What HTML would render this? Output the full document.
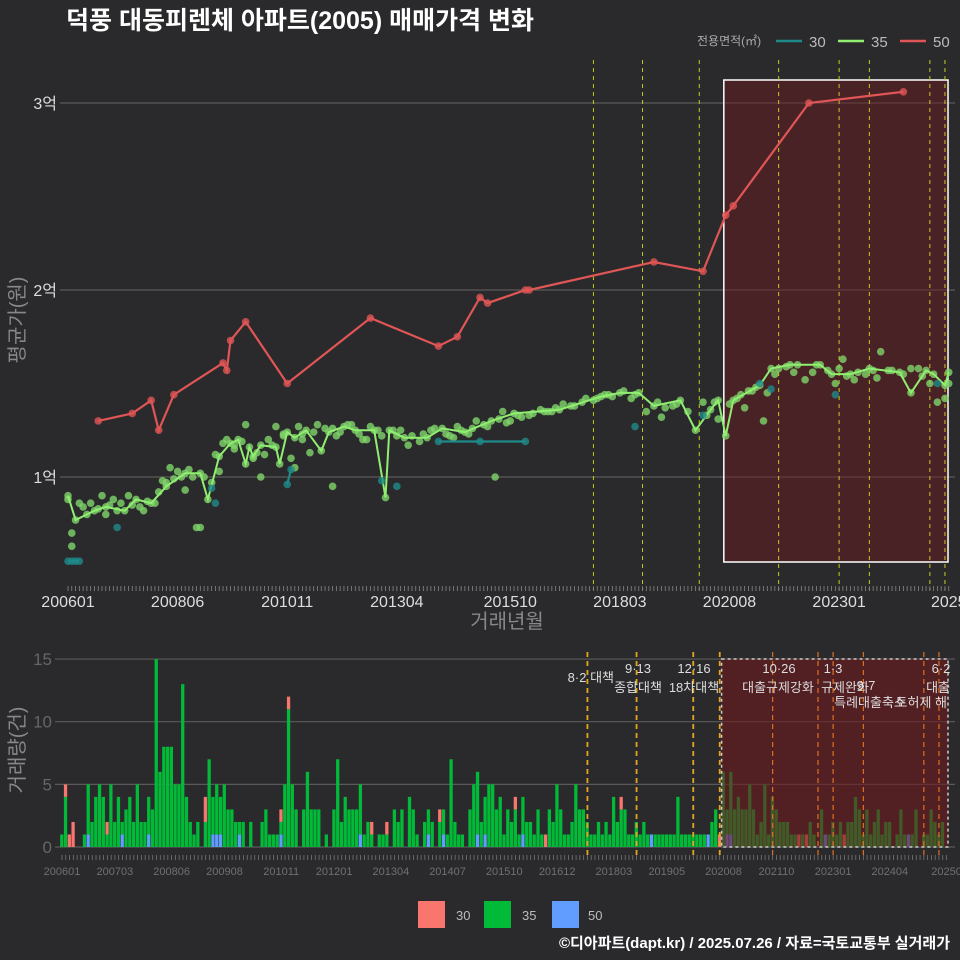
<!DOCTYPE html>
<html><head><meta charset="utf-8">
<style>
html,body{margin:0;padding:0;background:#2a2a2c;}
svg{display:block;font-family:"Liberation Sans","Noto Sans CJK KR",sans-serif;}
</style></head>
<body>
<svg id="chart" width="960" height="960" viewBox="0 0 960 960" xmlns="http://www.w3.org/2000/svg">
<rect width="960" height="960" fill="#2a2a2c"/>
<text x="66" y="29" fill="#ffffff" font-size="25" font-weight="bold">덕풍 대동피렌체 아파트(2005) 매매가격 변화</text>
<g id="topPanel"></g>
<g id="botPanel"></g>
<text x="697" y="45" fill="#aaaaaa" font-size="12">전용면적(㎡)</text>
<g><line x1="776" y1="41" x2="802" y2="41" stroke="#1f8a8a" stroke-width="2.5"/><text x="809" y="47" fill="#bbbbbb" font-size="15">30</text></g>
<g><line x1="838" y1="41" x2="864" y2="41" stroke="#90ee70" stroke-width="2.5"/><text x="871" y="47" fill="#bbbbbb" font-size="15">35</text></g>
<g><line x1="900" y1="41" x2="926" y2="41" stroke="#e05555" stroke-width="2.5"/><text x="933" y="47" fill="#bbbbbb" font-size="15">50</text></g>
<g>
<rect x="418" y="901" width="27" height="27" fill="#f8766d"/><text x="456" y="920" fill="#bbbbbb" font-size="13">30</text>
<rect x="484" y="901" width="27" height="27" fill="#00ba38"/><text x="522" y="920" fill="#bbbbbb" font-size="13">35</text>
<rect x="552" y="901" width="27" height="27" fill="#619cff"/><text x="588" y="920" fill="#bbbbbb" font-size="13">50</text>
</g>
<text x="950" y="948" text-anchor="end" fill="#ffffff" font-size="15" font-weight="bold">©디아파트(dapt.kr) / 2025.07.26 / 자료=국토교통부 실거래가</text>
</svg>
<script>
var line35Months=[0,2,7,10,15,18,22,26,31,35,37,40,43,45,47,48,49,51,55,56,58,60,63,67,69,73,76,81,84,85,89,95,99,105,112,118,130,141,146,151,155,162,166,170,172,174,176,183,186,191,199,202,207,212,220,223,227,229,232,233];
var line35Values=[0.90,0.77,0.82,0.84,0.82,0.88,0.86,0.95,1.02,1.02,0.88,1.11,1.18,1.20,1.07,1.16,1.11,1.17,1.16,1.07,1.24,1.21,1.25,1.14,1.24,1.27,1.25,1.25,0.89,1.25,1.21,1.21,1.26,1.24,1.30,1.34,1.36,1.43,1.45,1.45,1.38,1.41,1.25,1.36,1.41,1.22,1.41,1.49,1.58,1.60,1.60,1.55,1.55,1.58,1.56,1.45,1.57,1.55,1.49,1.56];
var pts35Months=[0,1,1,3,9,10,14,17,20,23,25,27,29,31,33,34,35,38,40,42,44,47,49,51,55,57,60,62,64,66,68,70,74,78,82,86,90,96,100,104,108,113,115,122,128,134,137,143,149,157,160,164,168,172,178,181,184,188,193,197,203,205,208,211,215,218,223,228,230,232,233,
4,5,6,8,11,12,13,16,19,21,24,26,28,30,32,36,39,41,44,46,50,52,53,54,57,59,61,62,65,70,71,72,75,77,79,80,83,87,88,91,93,94,97,101,102,103,106,107,110,111,114,116,117,119,120,123,125,126,127,129,131,133,136,139,140,142,144,147,150,153,156,158,161,169,171,175,177,179,180,182,185,187,190,192,195,198,201,204,206,209,213,214,217,221,225,226];
var pts35Values=[0.88,0.63,0.70,0.86,0.90,0.80,0.86,0.85,0.82,0.86,0.98,1.05,1.03,0.93,1.00,0.73,0.73,0.97,1.03,1.20,1.17,1.28,1.10,1.00,1.27,1.23,1.05,1.20,1.13,1.28,1.26,0.95,1.28,1.20,1.25,1.25,1.17,1.25,1.23,1.25,1.30,1.00,1.35,1.33,1.35,1.38,1.42,1.44,1.42,1.32,1.38,1.35,1.40,1.31,1.44,1.46,1.30,1.58,1.60,1.56,1.50,1.63,1.52,1.55,1.67,1.57,1.58,1.50,1.40,1.42,1.50,
0.84,0.80,0.86,0.83,0.85,0.88,0.82,0.90,0.84,0.87,0.92,0.97,0.99,1.00,1.04,1.00,1.12,1.18,1.15,1.19,1.13,1.12,1.20,1.17,1.22,1.10,1.27,1.23,1.24,1.26,1.22,1.24,1.28,1.23,1.20,1.27,1.22,1.22,1.25,1.22,1.19,1.23,1.26,1.22,1.21,1.27,1.23,1.26,1.28,1.27,1.31,1.29,1.30,1.33,1.32,1.34,1.36,1.35,1.35,1.37,1.39,1.38,1.40,1.41,1.42,1.44,1.43,1.46,1.44,1.35,1.40,1.37,1.39,1.33,1.40,1.39,1.42,1.37,1.46,1.48,1.45,1.55,1.59,1.56,1.52,1.60,1.57,1.58,1.54,1.56,1.57,1.53,1.57,1.55,1.58,1.54];
var line50Months=[8,17,22,24,28,41,42,43,47,58,80,98,103,109,111,121,122,155,168,174,176,196,221];
var line50Values=[1.30,1.34,1.41,1.25,1.44,1.61,1.57,1.73,1.83,1.50,1.85,1.70,1.75,1.96,1.93,2.00,2.00,2.15,2.10,2.40,2.45,3.00,3.06];
var line30aMonths=[0,1,2,3];
var line30aValues=[0.55,0.55,0.55,0.55];
var line30bMonths=[58,59];
var line30bValues=[0.96,1.04];
var line30cMonths=[98,109,121];
var line30cValues=[1.19,1.19,1.19];
var pts30Months=[13,38,39,83,87,150,168,183,186,203,230];
var pts30Values=[0.73,0.94,0.86,0.98,0.95,1.27,1.33,1.50,1.47,1.44,1.50];
var priceTicks=[1,2,3];
var priceTickLabels=["1억","2억","3억"];
var topXTickMonths=[0,29,58,87,117,146,175,204,233];
var topXTickLabels=["200601","200806","201011","201304","201510","201803","202008","202301","2025"];
var policyMonths=[139,152,167,188,204,212,228,232];
var vol35=[1,4,0,0,0,0,1,4,2,4,5,4,1,5,2,4,1,3,4,2,5,2,2,3,3,15,6,8,8,8,5,5,13,4,2,1,2,0,2,7,3,4,3,5,3,3,2,1,2,0,2,0,0,2,3,1,1,1,1,5,11,5,3,0,3,6,3,3,3,0,1,0,3,7,2,4,3,3,
3,4,1,2,1,0,1,1,1,0,3,2,3,0,4,3,1,0,2,2,2,0,2,2,1,7,2,1,1,0,3,5,5,2,3,5,5,3,4,1,3,2,3,1,3,2,2,1,3,1,0,3,2,5,3,1,1,2,5,3,3,2,
1,1,2,1,2,1,4,2,3,3,1,1,2,1,2,1,
0,1,1,1,1,1,1,4,1,1,1,1,1,1,1,0,2,3,0,
6,2,5,3,4,3,3,5,3,1,2,5,1,4,3,2,2,2,1,1,0,1,0,2,1,0,3,0,1,2,1,2,0,2,2,4,3,1,3,1,2,3,1,2,2,0,1,3,1,0,1,3,0,1,1,3,2,1,2];
var vol30Months=[1,2,3,12,38,58,60,82,86,100,120,128,148,174,195,197,207];
var vol30Counts=[1,1,2,1,2,1,1,1,1,1,1,1,1,1,1,1,1];
var vol50Months=[7,16,23,40,41,42,47,58,79,97,101,110,112,122,156,171,176,177,202,224];
var vol50Counts=[1,1,1,1,1,1,1,1,1,1,1,1,1,1,1,1,1,1,1,1];
var volTicks=[0,5,10,15];
var botXTickMonths=[0,14,29,43,58,72,87,102,117,131,146,160,175,189,204,219,234];
var botXTickLabels=["200601","200703","200806","200908","201011","201201","201304","201407","201510","201612","201803","201905","202008","202110","202301","202404","20250"];
var botPolicyMonths=[139,152,167,174,188,200,204,212,228,232];

var NS="http://www.w3.org/2000/svg";
function mk(tag,attrs,parent){var e=document.createElementNS(NS,tag);for(var k in attrs)e.setAttribute(k,attrs[k]);parent.appendChild(e);return e;}
var topG=document.getElementById('topPanel'),botG=document.getElementById('botPanel');
function tx(m){return 68+m*3.78;}
function ty(v){return 477-(v-1)*187;}
function bx(m){return 62+m*3.78;}
function by(v){return 847-v*12.53;}

priceTicks.forEach(function(t,i){
  var g=mk('line',{x1:60,x2:955,y1:ty(t),y2:ty(t),stroke:'#5a5a5a','stroke-width':1.2},topG);
  
  
  var l=mk('text',{x:57,y:ty(t)+6,'text-anchor':'end',fill:'#dddddd','font-size':16},topG);
  l.textContent=priceTickLabels[i];
  
  
});
var hb=mk('rect',{x:tx(173.5),y:80,width:948-tx(173.5),height:482,fill:'rgba(110,25,30,0.45)',stroke:'#ffffff','stroke-width':1.5},topG);


policyMonths.forEach(function(m){
  var l=mk('line',{x1:tx(m),x2:tx(m),y1:60,y2:590,stroke:'#c8c820','stroke-width':1,'stroke-dasharray':'4,4'},topG);
  
  
});
function drawLine(ms,vs,color,name,parent,w){
  var d=ms.map(function(m,i){return (i?'L':'M')+tx(m).toFixed(1)+','+ty(vs[i]).toFixed(1);}).join('');
  var p=mk('path',{d:d,fill:'none',stroke:color,'stroke-width':w||2.2},parent);
  
  
}
function drawPts(ms,vs,color,name,parent){
  ms.forEach(function(m,i){
    var c=mk('circle',{cx:tx(m),cy:ty(vs[i]),r:3.8,fill:color,'fill-opacity':0.8},parent);
    
    
  });
}
drawPts(pts35Months,pts35Values,'#7fd56a','point-35',topG);
drawPts(line35Months,line35Values,'#7fd56a','point-35',topG);
drawLine(line35Months,line35Values,'#90ee70','line-35',topG,2);
drawLine(line30aMonths,line30aValues,'#1f8a8a','line-30',topG);
drawLine(line30bMonths,line30bValues,'#1f8a8a','line-30',topG);
drawLine(line30cMonths,line30cValues,'#1f8a8a','line-30',topG);
drawPts(line30aMonths,line30aValues,'#1f8a8a','point-30',topG);
drawPts(line30bMonths,line30bValues,'#1f8a8a','point-30',topG);
drawPts(line30cMonths,line30cValues,'#1f8a8a','point-30',topG);
drawPts(pts30Months,pts30Values,'#1f8a8a','point-30',topG);
drawLine(line50Months,line50Values,'#e05555','line-50',topG);
drawPts(line50Months,line50Values,'#e05555','point-50',topG);
for(var m=0;m<=233;m++){
  var t=mk('line',{x1:tx(m),x2:tx(m),y1:586,y2:591,stroke:'#888','stroke-width':0.8},topG);
  
  
}
topXTickMonths.forEach(function(m,i){
  var l=mk('text',{x:tx(m),y:607,'text-anchor':'middle',fill:'#dddddd','font-size':16},topG);
  l.textContent=topXTickLabels[i];
  
  
});
var xt=mk('text',{x:507,y:628,'text-anchor':'middle',fill:'#888','font-size':20},topG);
xt.textContent='거래년월';


var yt=mk('text',{x:0,y:0,'text-anchor':'middle',fill:'#888','font-size':20,transform:'translate(24,320) rotate(-90)'},topG);
yt.textContent='평균가(원)';



volTicks.forEach(function(t){
  var g=mk('line',{x1:55,x2:955,y1:by(t),y2:by(t),stroke:'#5a5a5a','stroke-width':1.2},botG);
  
  
  var l=mk('text',{x:52,y:by(t)+6,'text-anchor':'end',fill:'#666','font-size':17},botG);
  l.textContent=String(t);
  
  
});
var bw=3.78;
var v50=[],v30=[];
for(var i=0;i<vol35.length;i++){v50.push(0);v30.push(0);}
vol50Months.forEach(function(m,i){v50[m]+=vol50Counts[i];});
vol30Months.forEach(function(m,i){v30[m]+=vol30Counts[i];});
for(var i=0;i<vol35.length;i++){
  var base=0;
  [[v50[i],'#619cff','bar-50'],[vol35[i],'#00ba38','bar-35'],[v30[i],'#f8766d','bar-30']].forEach(function(s){
    if(s[0]>0){
      var r=mk('rect',{x:bx(i)-bw/2,y:by(base+s[0]),width:bw-0.5,height:by(base)-by(base+s[0]),fill:s[1]},botG);
      
      
      base+=s[0];
    }
  });
}
var hb2=mk('rect',{x:bx(175)-bw/2,y:659,width:948-(bx(175)-bw/2),height:188,fill:'rgba(110,25,30,0.6)',stroke:'#cccccc','stroke-width':1.5,'stroke-dasharray':'3,3'},botG);


botPolicyMonths.forEach(function(m){
  var inside=m>=175;
  var l=mk('line',{x1:bx(m),x2:bx(m),y1:652,y2:857,stroke:inside?'#e07020':'#e6a520','stroke-width':inside?1.2:1.8,'stroke-dasharray':'5,4'},botG);
  
  
});
var ann=[[614,682,'end','8·2 대책'],[638,673,'middle','9·13'],[638,692,'middle','종합대책'],[694,673,'middle','12·16'],[694,692,'middle','18차대책'],[779,673,'middle','10·26'],[778,692,'middle','대출규제강화'],[833,673,'middle','1·3'],[845,692,'middle','규제완화'],[866,690,'middle','9·7'],[870,707,'middle','특례대출축소'],[947,707,'end','토허제 해'],[941,673,'middle','6·2'],[950,692,'end','대출']];
ann.forEach(function(a){
  var t=mk('text',{x:a[0],y:a[1],'text-anchor':a[2],fill:'#dddddd','font-size':13},botG);
  t.textContent=a[3];
  
  
});
for(var m=0;m<=234;m++){
  var t=mk('line',{x1:bx(m),x2:bx(m),y1:855,y2:860,stroke:'#777','stroke-width':0.8},botG);
  
  
}
botXTickMonths.forEach(function(m,i){
  var l=mk('text',{x:bx(m),y:875,'text-anchor':'middle',fill:'#707070','font-size':11},botG);
  l.textContent=botXTickLabels[i];
  
  
});
var yt2=mk('text',{x:0,y:0,'text-anchor':'middle',fill:'#888','font-size':20,transform:'translate(24,750) rotate(-90)'},botG);
yt2.textContent='거래량(건)';


</script>
</body></html>
